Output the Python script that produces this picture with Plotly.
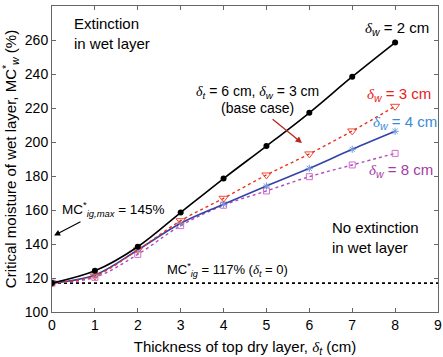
import plotly.graph_objects as go

thickness = [0, 1, 2, 3, 4, 5, 6, 7, 8]
mc_w2 = [117, 124.2, 138.4, 158.5, 178.5, 197.6, 217.2, 238.4, 258.5]
mc_w3 = [117, 121.2, 136.5, 153.7, 166.9, 180.6, 193.0, 206.5, 221.0]
mc_w4 = [117, 121.8, 136.5, 152.2, 163.4, 174.1, 184.5, 195.7, 206.3]
mc_w8 = [117, 120.4, 133.9, 150.8, 162.8, 171.2, 179.6, 186.5, 193.3]
mc_ig = 117
mc_ig_max = 145

SERIF = "Liberation Serif"
def d(sub):
    return (f'<span style="font-family:{SERIF}"><i>δ</i></span>'
            f'<sub><i>{sub}</i></sub>')

fig = go.Figure()

fig.add_trace(go.Scatter(x=[0, 9], y=[mc_ig, mc_ig], mode="lines",
                         line=dict(color="black", width=1.6, dash="dot"),
                         showlegend=False, hoverinfo="skip"))

fig.add_trace(go.Scatter(x=thickness, y=mc_w8, mode="lines+markers",
                         line=dict(color="#b04cba", width=1.4, dash="dot", shape="spline"),
                         marker=dict(symbol="square-open", size=6, color="#d06ccc",
                                     line=dict(width=1)),
                         showlegend=False))
fig.add_trace(go.Scatter(x=thickness, y=mc_w4, mode="lines+markers",
                         line=dict(color="#3442a8", width=1.6, shape="spline"),
                         marker=dict(symbol="asterisk-open", size=6, color="#6f9ad8",
                                     line=dict(width=1, color="#6f9ad8")),
                         showlegend=False))
fig.add_trace(go.Scatter(x=thickness, y=mc_w3, mode="lines+markers",
                         line=dict(color="#e8321f", width=1.4, dash="dot", shape="spline"),
                         marker=dict(symbol="triangle-down-open", size=8, color="#ec4a3a",
                                     line=dict(width=1)),
                         showlegend=False))
fig.add_trace(go.Scatter(x=thickness, y=mc_w2, mode="lines+markers",
                         line=dict(color="black", width=1.6, shape="spline"),
                         marker=dict(symbol="circle", size=6, color="black"),
                         showlegend=False))

fs = 15
ann = [
    dict(x=0.47, y=276, text="Extinction<br>in wet layer", xanchor="left", yanchor="top",
         align="left", font=dict(size=fs, color="black")),
    dict(x=8.84, y=267, text=f"{d('w')} = 2 cm", xanchor="right", yanchor="middle",
         font=dict(size=fs, color="black")),
    dict(x=4.8, y=229.4, text=f"{d('t')} = 6 cm, {d('w')} = 3 cm", xanchor="center",
         yanchor="middle", font=dict(size=fs - 1, color="black")),
    dict(x=4.8, y=220, text="(base case)", xanchor="center", yanchor="middle",
         font=dict(size=fs - 1, color="black")),
    dict(x=8.09, y=228.2, text=f"{d('w')} = 3 cm", xanchor="center", yanchor="middle",
         font=dict(size=fs, color="#e8201a")),
    dict(x=8.23, y=211.2, text=f"{d('w')} = 4 cm", xanchor="center", yanchor="middle",
         font=dict(size=fs, color="#3b8ad6")),
    dict(x=8.14, y=183.5, text=f"{d('w')} = 8 cm", xanchor="center", yanchor="middle",
         font=dict(size=fs, color="#a23ca6")),
    dict(x=0.19, y=160.6, text="MC<sup>*</sup><sub><i>ig,max</i></sub> = 145%",
         xanchor="left", yanchor="middle", font=dict(size=13.5, color="black")),
    dict(x=6.48, y=156, text="No extinction<br>in wet layer", xanchor="left", yanchor="top",
         align="left", font=dict(size=fs, color="black")),
    dict(x=4.1, y=124.7, text=f"MC<sup>*</sup><sub><i>ig</i></sub> = 117% ({d('t')} = 0)",
         xanchor="center", yanchor="middle", font=dict(size=13, color="black")),
]
for a in ann:
    a.update(showarrow=False, xref="x", yref="y")

# arrows
ann.append(dict(x=5.83, y=199.4, ax=5.11, ay=214.1, xref="x", yref="y", axref="x", ayref="y",
                showarrow=True, arrowhead=2, arrowsize=1, arrowwidth=1.3, arrowcolor="#b8261e",
                text=""))
ann.append(dict(x=0.05, y=mc_ig_max, ax=0.70, ay=153.5, xref="x", yref="y", axref="x", ayref="y",
                showarrow=True, arrowhead=2, arrowsize=1, arrowwidth=1.2, arrowcolor="black",
                text=""))

axis_common = dict(showline=True, linecolor="#666", linewidth=1, mirror="ticks",
                   ticks="inside", ticklen=4, tickcolor="#666", showgrid=False, zeroline=False,
                   automargin=False, tickfont=dict(size=14, color="black"))

fig.update_layout(
    width=443, height=357,
    margin=dict(l=52, r=5, t=6, b=45),
    paper_bgcolor="white", plot_bgcolor="white",
    font=dict(family="Liberation Sans, Arial, sans-serif", color="black"),
    annotations=ann,
    xaxis=dict(range=[0, 9], dtick=1, tick0=0,
               title=dict(text=f"Thickness of top dry layer, {d('t')} (cm)",
                          font=dict(size=15)),
               **axis_common),
    yaxis=dict(range=[100, 280], dtick=20, tick0=100,
               title=dict(text="Critical moisture of wet layer, MC<sup>*</sup><sub><i>w</i></sub> (%)",
                          font=dict(size=15)),
               **axis_common),
)

fig.write_html("out.html", config={"displayModeBar": False},
               post_script="document.body.style.margin='0';document.body.style.overflow='hidden';")
